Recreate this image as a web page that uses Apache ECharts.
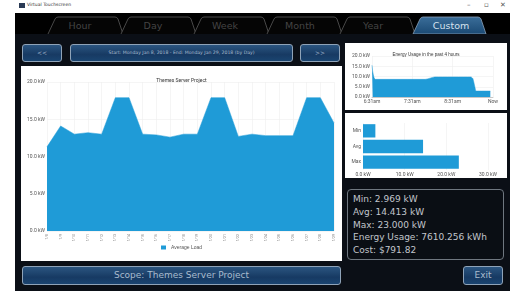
<!DOCTYPE html>
<html><head><meta charset="utf-8">
<script src="https://cdn.jsdelivr.net/npm/echarts@6/dist/echarts.min.js"></script>
<style>
html,body{margin:0;padding:0;width:510px;height:291px;overflow:hidden;background:#fff;font-family:"DejaVu Sans",sans-serif;}
#app{position:absolute;left:15px;top:0;width:495px;height:291px;background:#0b0f16;}
#titlebar{position:absolute;left:0;top:0;width:495px;height:13px;background:#fff;}
#titlebar .icon{position:absolute;left:4px;top:3px;width:6px;height:5px;background:#2a3a55;}
#titlebar .t{position:absolute;left:12px;top:2px;font-size:4.5px;color:#333;}
#titlebar .c{position:absolute;top:1px;font-size:7px;color:#555;}
#tabs{position:absolute;left:0;top:13px;width:495px;height:21px;background:#000;}
.btn{position:absolute;box-sizing:border-box;border:1px solid #8fa3b8;border-radius:3px;
 background:linear-gradient(#2b5580,#173a63 60%,#1a4470);color:#a9bccf;text-align:center;}
.panel{position:absolute;background:#fff;}
#stats{position:absolute;left:332px;top:189px;width:157px;height:71px;box-sizing:border-box;border:1px solid #6f7780;border-radius:4px;background:#0a0e14;color:#c2c6cc;font-size:9px;line-height:12.8px;padding:3px 0 0 5px;}
</style></head>
<body>
<div id="app">
 <div id="titlebar"><div class="icon"></div><div class="t">Virtual Touchscreen</div>
  <div class="c" style="left:452px">–</div><div class="c" style="left:469px">▫</div><div class="c" style="left:485px">✕</div></div>
 <div id="tabs">
  <svg width="495" height="21" style="position:absolute;left:0;top:0">
   <defs><linearGradient id="tg" x1="0" y1="0" x2="0" y2="1"><stop offset="0" stop-color="#3a6d99"/><stop offset="1" stop-color="#1b4a74"/></linearGradient></defs>
   <g fill="#050505" stroke="#5a5a5a" stroke-width="0.8">
    <path d="M33 21 L40 6 Q41 4 43 4 L100 4 Q102 4 103 6 L108 21"/>
    <path d="M106 21 L113 6 Q114 4 116 4 L173 4 Q175 4 176 6 L181 21"/>
    <path d="M179 21 L186 6 Q187 4 189 4 L246 4 Q248 4 249 6 L254 21"/>
    <path d="M252 21 L259 6 Q260 4 262 4 L319 4 Q321 4 322 6 L327 21"/>
    <path d="M325 21 L332 6 Q333 4 335 4 L392 4 Q394 4 395 6 L400 21"/>
   </g>
   <path d="M398 21 L405 6 Q406 4 408 4 L463 4 Q465 4 466 6 L471 21 Z" fill="url(#tg)" stroke="#8aa0b5" stroke-width="0.8"/>
   <g font-size="9.5" fill="#444" text-anchor="middle" font-family="DejaVu Sans">
    <text x="65" y="16">Hour</text><text x="138" y="16">Day</text><text x="210" y="16">Week</text>
    <text x="285" y="16">Month</text><text x="358" y="16">Year</text>
   </g>
   <text x="436" y="16" font-size="9.5" fill="#d5e2ee" text-anchor="middle" font-family="DejaVu Sans">Custom</text>
  </svg>
 </div>
 <div class="btn" style="left:7px;top:44px;width:40px;height:18px;font-size:6px;line-height:16px;">&lt;&lt;</div>
 <div class="btn" style="left:55px;top:44px;width:223px;height:18px;font-size:4.6px;line-height:16px;">Start: Monday Jan 8, 2018 - End: Monday Jan 29, 2018 (by Day)</div>
 <div class="btn" style="left:285px;top:44px;width:40px;height:18px;font-size:6px;line-height:16px;">&gt;&gt;</div>
 <div class="panel" style="left:6px;top:66px;width:321px;height:195px;"><div id="main" style="width:321px;height:195px"></div></div>
 <div class="panel" style="left:330px;top:43px;width:162px;height:67px;"><div id="hour" style="width:162px;height:67px"></div></div>
 <div class="panel" style="left:330px;top:113px;width:162px;height:65px;"><div id="bars" style="width:162px;height:65px"></div></div>
 <div id="stats">Min: 2.969 kW<br>Avg: 14.413 kW<br>Max: 23.000 kW<br>Energy Usage: 7610.256 kWh<br>Cost: $791.82</div>
 <div class="btn" style="left:7px;top:266px;width:319px;height:19px;font-size:9px;line-height:17px;">Scope: Themes Server Project</div>
 <div class="btn" style="left:448px;top:266px;width:40px;height:19px;font-size:9px;line-height:17px;">Exit</div>
</div>
<script>
// Main chart data (daily average load, kW)
var dayLabels = ["1/8","1/9","1/10","1/11","1/12","1/13","1/14","1/15","1/16","1/17","1/18","1/19","1/20","1/21","1/22","1/23","1/24","1/25","1/26","1/27","1/28","1/29"];
var avgLoad = [11.3,14.1,13.0,13.2,13.0,17.9,17.9,13.0,12.9,12.6,13.0,13.0,17.9,17.9,12.7,13.0,12.8,12.8,12.8,17.9,17.9,14.5];
var mainTitle = "Themes Server Project";
var seriesName = "Average Load";

// Past hours chart (minutes since start, kW)
var hourMinutes = [0,1,3,5,79,94,147,150,153,155,176];
var hourLoad = [15.5,12.5,9.5,8.6,8.6,9.8,9.8,9.0,5.0,2.9,2.9];
var hourTickLabels = {0:"6:31am",60:"7:31am",120:"8:31am",180:"Now"};
var hourTitle = "Energy Usage in the past 4 hours";

// Summary bars
var statCats = ["Max","Avg","Min"];
var statVals = [23.0,14.413,2.969];

var blue = "#1f9bd7";
var lblFont = {fontSize:5,color:"#555",fontFamily:"Roboto"};
function kw(v){return v.toFixed(1)+" kW";}

var m = echarts.init(document.getElementById('main'),null,{renderer:'canvas'});
m.setOption({
 animation:false,
 title:{text:mainTitle,left:'center',top:7,textStyle:{fontSize:5,fontWeight:'normal',color:'#333',fontFamily:'Roboto'}},
 legend:{bottom:6,itemWidth:5,itemHeight:4,textStyle:{fontSize:5,color:'#555'},data:[{name:seriesName,icon:'rect'}]},
 grid:{left:26,right:8,top:16,bottom:30},
 xAxis:{type:'category',boundaryGap:false,data:dayLabels,
   axisLine:{show:false},axisTick:{show:false},
   axisLabel:Object.assign({rotate:90,margin:3,interval:0},lblFont,{fontSize:3.5,color:'#777'}),
   splitLine:{show:true,lineStyle:{color:'#eee',width:0.6}}},
 yAxis:{type:'value',min:0,max:20,interval:5,
   axisLabel:Object.assign({formatter:kw,margin:2},lblFont),
   axisLine:{show:false},axisTick:{show:false},
   splitLine:{show:true,lineStyle:{color:'#eee',width:0.6}}},
 series:[{name:seriesName,type:'line',data:avgLoad,symbol:'none',
   lineStyle:{width:0.5,color:blue},itemStyle:{color:blue},areaStyle:{color:blue,opacity:1}}]
});

var h = echarts.init(document.getElementById('hour'));
h.setOption({
 animation:false,
 title:{text:hourTitle,left:'center',top:4,textStyle:{fontSize:4.5,fontWeight:'normal',color:'#333'}},
 grid:{left:27,right:14,top:13,bottom:13},
 xAxis:{type:'value',min:0,max:180,interval:60,
   axisLabel:Object.assign({formatter:function(v){return hourTickLabels[v]||'';},margin:2},lblFont),
   axisLine:{show:true,lineStyle:{color:'#999',width:0.5}},axisTick:{show:false},
   splitLine:{show:true,lineStyle:{color:'#eee',width:0.6}}},
 yAxis:{type:'value',min:0,max:20,interval:5,
   axisLabel:Object.assign({formatter:kw,margin:2},lblFont),
   axisLine:{show:false},axisTick:{show:false},
   splitLine:{show:true,lineStyle:{color:'#eee',width:0.6}}},
 series:[{type:'line',data:hourMinutes.map(function(t,i){return [t,hourLoad[i]];}),symbol:'none',smooth:0.2,
   lineStyle:{width:0.5,color:blue},areaStyle:{color:blue,opacity:1}}]
});

var b = echarts.init(document.getElementById('bars'));
b.setOption({
 animation:false,
 grid:{left:18,right:19,top:10,bottom:8},
 xAxis:{type:'value',min:0,max:30,interval:10,
   axisLabel:Object.assign({formatter:kw,margin:2},lblFont),
   axisLine:{show:false},axisTick:{show:false},
   splitLine:{show:true,lineStyle:{color:'#eee',width:0.6}}},
 yAxis:{type:'category',data:statCats,
   axisLabel:Object.assign({margin:2},lblFont),
   axisLine:{show:false},axisTick:{show:false}},
 series:[{type:'bar',data:statVals,barCategoryGap:'15%',itemStyle:{color:blue}}]
});
</script>
</body></html>
